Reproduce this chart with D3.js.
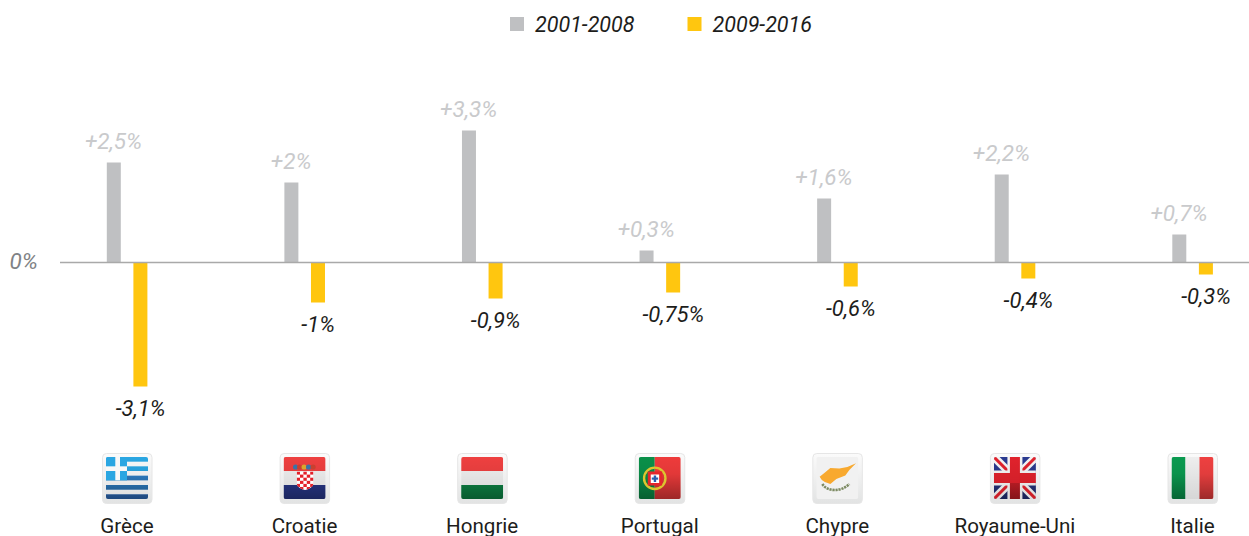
<!DOCTYPE html>
<html><head><meta charset="utf-8">
<script src="https://cdnjs.cloudflare.com/ajax/libs/d3/7.8.5/d3.min.js"></script>
<style>html,body{margin:0;background:#fff}svg{display:block}text{font-family:Roboto,sans-serif}</style>
</head><body><svg id="c" width="1249" height="536"></svg>
<script>
const countries = ["Grèce","Croatie","Hongrie","Portugal","Chypre","Royaume-Uni","Italie"];
const flagKeys = ["gr","hr","hu","pt","cy","uk","it"];
const series1 = [2.5,2,3.3,0.3,1.6,2.2,0.7];
const series2 = [-3.1,-1,-0.9,-0.75,-0.6,-0.4,-0.3];
const labels1 = ["+2,5%","+2%","+3,3%","+0,3%","+1,6%","+2,2%","+0,7%"];
const labels2 = ["-3,1%","-1%","-0,9%","-0,75%","-0,6%","-0,4%","-0,3%"];
const seriesNames = ["2001-2008","2009-2016"];
const colors = ["#bfc0c2","#ffc60f"];

const svg = d3.select("#c");
const x = d3.scalePoint().domain(countries).range([127,1192.5]);
const y = d3.scaleLinear().domain([0,1]).range([262.5,222.5]);
const defs = svg.append("defs");

// legend
const lg = svg.append("g");
seriesNames.forEach((n,i)=>{
  const lx = 510+i*177.5;
  lg.append("rect").attr("x",lx).attr("y",17).attr("width",14).attr("height",14).attr("fill",colors[i]);
  lg.append("text").attr("x",lx+25).attr("y",32).attr("font-size",21.5).attr("font-style","italic").attr("fill","#1d1d1b").text(n);
});

// bars
const barW = 14;
svg.append("g").selectAll("rect").data(series1).join("rect")
  .attr("x",(d,i)=>x(countries[i])-20.2).attr("y",d=>y(d)).attr("width",barW).attr("height",d=>y(0)-y(d)).attr("fill",colors[0]);
svg.append("g").selectAll("rect").data(series2).join("rect")
  .attr("x",(d,i)=>x(countries[i])+6.4).attr("y",y(0)).attr("width",barW).attr("height",d=>y(d)-y(0)).attr("fill",colors[1]);

// zero line
svg.append("line").attr("x1",60).attr("x2",1249).attr("y1",y(0)).attr("y2",y(0)).attr("stroke","#a9a9a9").attr("stroke-width",1.4);
svg.append("text").attr("x",9.5).attr("y",269).attr("font-size",22.5).attr("font-style","italic").attr("fill","#808285").text("0%");

// value labels
svg.append("g").selectAll("text").data(series1).join("text")
  .attr("x",(d,i)=>x(countries[i])-13.5).attr("y",d=>y(d)-13.5).attr("text-anchor","middle")
  .attr("font-size",22.5).attr("font-style","italic").attr("fill","#c9cacc").text((d,i)=>labels1[i]);
svg.append("g").selectAll("text").data(series2).join("text")
  .attr("x",(d,i)=>x(countries[i])+13.5).attr("y",d=>y(d)+29).attr("text-anchor","middle")
  .attr("font-size",22).attr("font-style","italic").attr("fill","#1d1d1b").text((d,i)=>labels2[i]);

// country labels
svg.append("g").selectAll("text").data(countries).join("text")
  .attr("x",d=>x(d)).attr("y",532.5).attr("text-anchor","middle")
  .attr("font-size",20.6).attr("fill","#1d1d1b").text(d=>d);

// flags (local 50x50 icon, picture area 4..46)
const grad=(id,o)=>{const g=defs.append("linearGradient").attr("id",id).attr("gradientUnits","userSpaceOnUse").attr("x1",0).attr("x2",0).attr("y1",4).attr("y2",46);
  o.forEach(([a,c,p])=>g.append("stop").attr("offset",a).attr("stop-color",c).attr("stop-opacity",p));};
grad("shade",[[0,"#000",0],[0.4,"#000",0.05],[1,"#000",0.34]]);
grad("soft",[[0,"#000",0],[1,"#000",0.1]]);
const frame = defs.append("linearGradient").attr("id","frame").attr("x1",0).attr("x2",0).attr("y1",0).attr("y2",1);
frame.append("stop").attr("offset",0).attr("stop-color","#fbfbfb");
frame.append("stop").attr("offset",1).attr("stop-color","#e2e3e3");
defs.append("clipPath").attr("id","fc").append("rect").attr("x",4).attr("y",4).attr("width",42).attr("height",42).attr("rx",2);
defs.append("clipPath").attr("id","shield").append("path").attr("d","M17 18.5H34V30C34 34 29 36.5 25.5 37C22 36.5 17 34 17 30Z");

const WHITE="#eeeeee", BRIGHT="#f8f8f8";
const R=(g,a,b,w,h,f)=>{g.append("rect").attr("x",a).attr("y",b).attr("width",w).attr("height",h).attr("fill",f);
  g.append("rect").attr("x",a).attr("y",b).attr("width",w).attr("height",h).attr("fill",(f===WHITE||f===BRIGHT)?"url(#soft)":"url(#shade)");};
const P=(g,a,b,w,h,f)=>g.append("rect").attr("x",a).attr("y",b).attr("width",w).attr("height",h).attr("fill",f);
const draw = {
  gr(g){const B="#2aa6e2",D="#2f7fc6";R(g,4,4,42,42,BRIGHT);
    [[4,B],[13.33,B],[22.67,D],[32,D],[41.33,"#2f6fc0"]].forEach(([yy,c])=>R(g,4,yy,42,4.67,c));
    P(g,4,4,21,23.33,B);P(g,13.3,4,4.7,23.33,BRIGHT);P(g,4,13.33,21,4.67,BRIGHT);},
  hr(g){R(g,4,4,42,14,"#ee4040");R(g,4,18,42,14,WHITE);R(g,4,32,42,14,"#2a3a90");
    const s=g.append("g").attr("clip-path","url(#shield)");
    P(s,17,18.5,17,19,"#fff");
    for(let r=0;r<6;r++)for(let c=0;c<5;c++)if((r+c)%2===0)P(s,17+c*3.4,18.5+r*3.1,3.4,3.1,"#e3212a");
    [["#3b73a8",16],["#c8412f",20],["#d9a72d",24.5],["#3b73a8",29],["#c8412f",33.5]].forEach(([c,cx])=>
      g.append("circle").attr("cx",cx).attr("cy",14).attr("r",2.6).attr("fill",c));},
  hu(g){R(g,4,4,42,14,"#ee4040");R(g,4,18,42,14,WHITE);R(g,4,32,42,14,"#0d8a48");},
  pt(g){R(g,4,4,16,42,"#0a9049");R(g,20,4,26,42,"#ee3b3b");
    g.append("circle").attr("cx",20).attr("cy",25.3).attr("r",10.7).attr("fill","none").attr("stroke","#dcc52f").attr("stroke-width",2.4);
    P(g,13,18.5,14.4,14,"#e5262b");P(g,16,21.5,8.4,8.5,"#fff");P(g,19,22.5,2.4,6.5,"#2c5fb0");P(g,17,24.5,6.4,2.2,"#2c5fb0");},
  cy(g){P(g,4,4,42,42,"#f1f1f1");
    g.append("path").attr("fill","#f8a92f").attr("d","M7.3 23.7L12 20L18 15L27 15.5L35 14L43.7 10.3L37 17L33 22.5L24 26L18 31L12.5 29L9.5 27Z");
    g.append("path").attr("fill","none").attr("stroke","#7c8a62").attr("stroke-width",2.6).attr("stroke-dasharray","2.2 0.8").attr("d","M10 31C15 39 29 39 37 31");},
  uk(g){const N="#2a3a90",Re="#e0222c";R(g,4,4,42,42,N);
    [[4,4,46,46],[46,4,4,46]].forEach(([a,b,c,d])=>{
      g.append("line").attr("x1",a).attr("y1",b).attr("x2",c).attr("y2",d).attr("stroke","#f4f4f4").attr("stroke-width",8);
      g.append("line").attr("x1",a).attr("y1",b).attr("x2",c).attr("y2",d).attr("stroke",Re).attr("stroke-width",3);});
    P(g,4,17.5,42,15,"#f4f4f4");P(g,17.5,4,15,42,"#f4f4f4");P(g,4,20,42,10,Re);P(g,20,4,10,42,Re);P(g,4,4,42,42,"url(#soft)");P(g,20,30,10,16,"url(#shade)");},
  it(g){R(g,4,4,14,42,"#0a9a50");R(g,18,4,14,42,WHITE);R(g,32,4,14,42,"#ee4040");}
};
const flags = svg.append("g").selectAll("g").data(countries).join("g")
  .attr("transform",d=>`translate(${x(d)-25},453)`);
flags.append("rect").attr("x",0.5).attr("y",0.5).attr("width",49.5).attr("height",50).attr("rx",4)
  .attr("fill","url(#frame)").attr("stroke","#e6e6e6");
flags.each(function(d,i){
  const g=d3.select(this).append("g").attr("clip-path","url(#fc)");
  draw[flagKeys[i]](g);
});
</script></body></html>
